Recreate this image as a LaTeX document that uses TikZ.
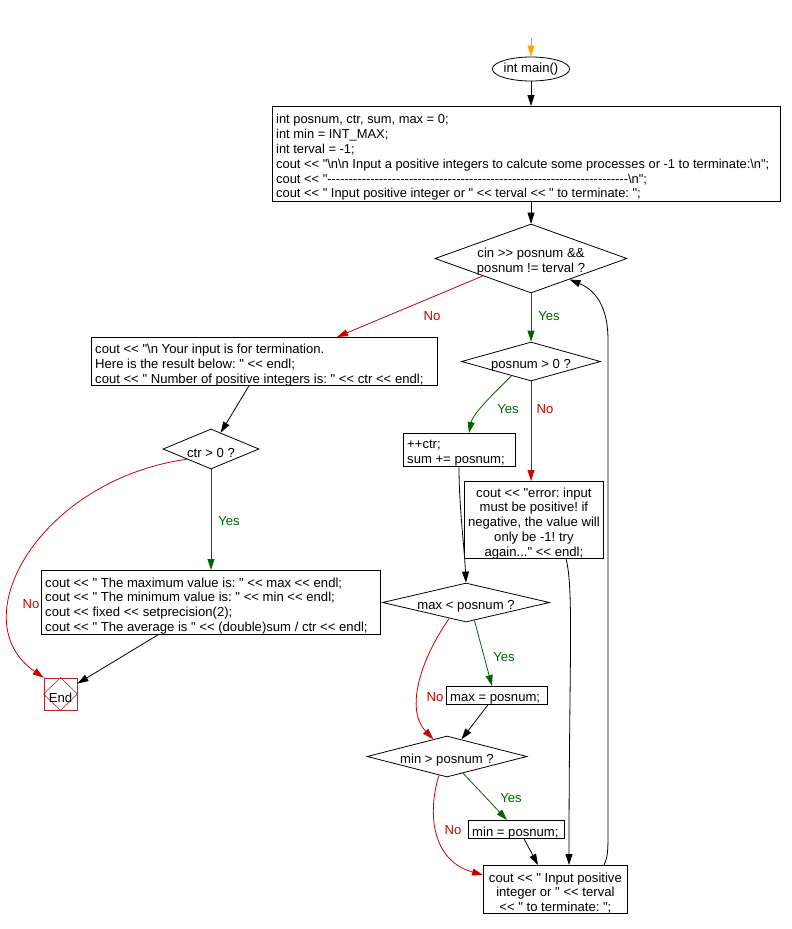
\documentclass[tikz,border=0pt]{standalone}
\usepackage{fontspec}
\setmainfont{Liberation Sans}[Ligatures=TeXOff]
\usetikzlibrary{arrows.meta,shapes.geometric,calc}
\definecolor{ered}{RGB}{204,0,0}
\definecolor{egreen}{RGB}{0,100,0}
\definecolor{endred}{RGB}{180,40,40}
\definecolor{oarr}{RGB}{255,165,0}
\newcommand\bsn{\textbackslash n}
\newcommand\fsz{\fontsize{13.1}{14.8}\selectfont\frenchspacing\hyphenpenalty=10000 }
\newcommand\fszb{\fontsize{12.9}{14.9}\selectfont\frenchspacing\hyphenpenalty=10000 }
\tikzset{
  frame/.style={draw,rectangle,line width=0.8pt,inner sep=0pt,anchor=north west},
  ltext/.style={font=\fsz,align=left,inner sep=0pt,anchor=west,yshift=-3.5pt},
  ctext/.style={font=\fsz,align=center,inner sep=0pt,yshift=-3.5pt},
  dia/.style={draw,diamond,line width=0.8pt,inner sep=0pt},
  arr/.style={line width=0.8pt,-{Triangle[length=11pt,width=7pt]}},
  yesarr/.style={arr,egreen},
  noarr/.style={arr,ered},
  yeslbl/.style={font=\fsz,text=egreen,inner sep=0pt},
  nolbl/.style={font=\fsz,text=ered,inner sep=0pt},
}
\begin{document}
\begin{tikzpicture}[x=1pt,y=-1pt]
\useasboundingbox (0,0) rectangle (792,929);
% start
\coordinate (st) at (531,38);
\node[draw,ellipse,line width=0.8pt,minimum width=72,minimum height=24,inner sep=0pt,font=\fsz] (main) at (531,69) {int main()};
% box 1
\node[frame,minimum width=508,minimum height=95] (b1) at (272,106) {};
\node[ltext,font=\fszb] (b1t) at ($(b1.west)+(4,0)$) {int posnum, ctr, sum, max = 0;\\int min = INT\_MAX;\\int terval = -1;\\cout << "\bsn\bsn{} Input a positive integers to calcute some processes or -1 to terminate:\bsn";\\cout << "----------------------------------------------------------------------\bsn";\\cout << " Input positive integer or " << terval << " to terminate: ";};
% decision 1
\node[dia,minimum width=192,minimum height=69] (d1) at (531,258.5) {};
\node[ctext] (d1t) at (d1) {cin >> posnum \&\&\\posnum != terval ?};
% box 2
\node[frame,minimum width=346,minimum height=48] (b2) at (91,337) {};
\node[ltext] (b2t) at ($(b2.west)+(4,0)$) {cout << "\bsn{} Your input is for termination.\\Here is the result below: " << endl;\\cout << " Number of positive integers is: " << ctr << endl;};
% ctr > 0
\node[dia,minimum width=96,minimum height=40] (dctr) at (211,449) {};
\node[ctext] (dctrt) at (dctr) {ctr > 0 ?};
% box 3
\node[frame,minimum width=339,minimum height=64] (b3) at (41,570) {};
\node[ltext] (b3t) at ($(b3.west)+(4,0)$) {cout << " The maximum value is: " << max << endl;\\cout << " The minimum value is: " << min << endl;\\cout << fixed << setprecision(2);\\cout << " The average is " << (double)sum / ctr << endl;};
% end
\node[draw=endred,rectangle,line width=0.8pt,minimum width=33,minimum height=32,inner sep=0pt] (end) at (60.5,694) {};
\draw[endred,line width=0.6pt] (end.north) -- (end.east) -- (end.south) -- (end.west) -- cycle;
\node[ctext] (endt) at (end) {End};
% posnum > 0
\node[dia,minimum width=139,minimum height=39] (dpos) at (531,361.5) {};
\node[ctext] (dpost) at (dpos) {posnum > 0 ?};
% ++ctr
\node[frame,minimum width=112,minimum height=33] (bctr) at (403,433) {};
\node[ltext] (bctrt) at ($(bctr.west)+(4,0)$) {++ctr;\\sum += posnum;};
% error
\node[frame,minimum width=139,minimum height=77] (berr) at (464,481) {};
\node[ctext] (berrt) at (berr) {cout << "error: input\\must be positive! if\\negative, the value will\\only be -1! try\\again..." << endl;};
% max < posnum
\node[dia,minimum width=167,minimum height=39] (dmax) at (466,602.5) {};
\node[ctext] (dmaxt) at (dmax) {max < posnum ?};
\node[frame,minimum width=101,minimum height=18] (bmax) at (446,686) {};
\node[ltext] (bmaxt) at ($(bmax.west)+(4,0)$) {max = posnum;};
% min > posnum
\node[dia,minimum width=160,minimum height=41] (dmin) at (447,756.5) {};
\node[ctext] (dmint) at (dmin) {min > posnum ?};
\node[frame,minimum width=96,minimum height=18] (bmin) at (468,820) {};
\node[ltext] (bmint) at ($(bmin.west)+(4,0)$) {min = posnum;};
% box 4
\node[frame,minimum width=144,minimum height=48] (b4) at (483,865) {};
\node[ctext] (b4t) at (b4) {cout << " Input positive\\integer or " << terval\\<< " to terminate: ";};
% connectors
\draw[arr,oarr] (st) -- (main.north);
\draw[arr] (main.south) -- (main.south |- b1.north);
\draw[arr] (b1.south -| d1.north) -- (d1.north);
\draw[noarr] (d1.south west) -- ($(b2.north west)+(246,0)$);
\node[nolbl] (l1) at (432,316) {No};
\draw[yesarr] (d1.south) -- (dpos.north);
\node[yeslbl] (l2) at (549,316) {Yes};
\draw[arr] ($(b2.south west)+(158,0)$) -- ($(dctr.north)!0.2!(dctr.east)$);
\draw[yesarr] (dctr.south) -- (dctr.south |- b3.north);
\node[yeslbl] (l3) at (229,521) {Yes};
\draw[noarr] (dctr.south west) .. controls (40,480) and (-40,620) .. (end.north west);
\node[nolbl] (l4) at (31,604) {No};
\draw[arr] ($(b3.south west)+(117,0)$) -- ($(end.north east)+(0,6)$);
\draw[yesarr] ($(dpos.south)!0.28!(dpos.west)$) .. controls +(-15,15) and +(4,-20) .. ($(bctr.north west)+(66,0)$);
\node[yeslbl] (l5) at (508,409) {Yes};
\draw[noarr] (dpos.south) -- (dpos.south |- berr.north);
\node[nolbl] (l6) at (545,409) {No};
\draw[arr] ($(bctr.south west)+(56,0)$) .. controls +(0,40) and +(-2,-40) .. (dmax.north);
\draw[yesarr] ($(dmax.south)!0.1!(dmax.east)$) -- ($(bmax.north west)+(46,0)$);
\node[yeslbl] (l7) at (504,657) {Yes};
\draw[noarr] ($(dmax.south)!0.2!(dmax.west)$) .. controls (420,660) and (405,710) .. ($(dmin.north)!0.17!(dmin.west)$);
\node[nolbl] (l8) at (435,697) {No};
\draw[arr] ($(bmax.south west)+(42,0)$) -- ($(dmin.north)!0.18!(dmin.east)$);
\draw[yesarr] ($(dmin.south)!0.2!(dmin.east)$) -- ($(bmin.north west)+(39,0)$);
\node[yeslbl] (l9) at (511,798) {Yes};
\draw[noarr] ($(dmin.south)!0.1!(dmin.west)$) .. controls (428,810) and (430,860) .. ($(b4.north west)+(0,10)$);
\node[nolbl] (l10) at (453,830) {No};
\draw[arr] ($(bmin.south west)+(56,0)$) -- ($(b4.north west)+(55,0)$);
\draw[arr] ($(berr.south west)+(102,0)$) .. controls +(8,30) and +(0,-200) .. ($(b4.north west)+(86,0)$);
\draw[arr] ($(b4.north west)+(121,0)$) .. controls +(4,-8) and +(0,20) .. (608,830) -- (608,340) .. controls (608,300) and (590,288) .. ($(d1.south)!0.4!(d1.east)$);
\end{tikzpicture}
\end{document}
